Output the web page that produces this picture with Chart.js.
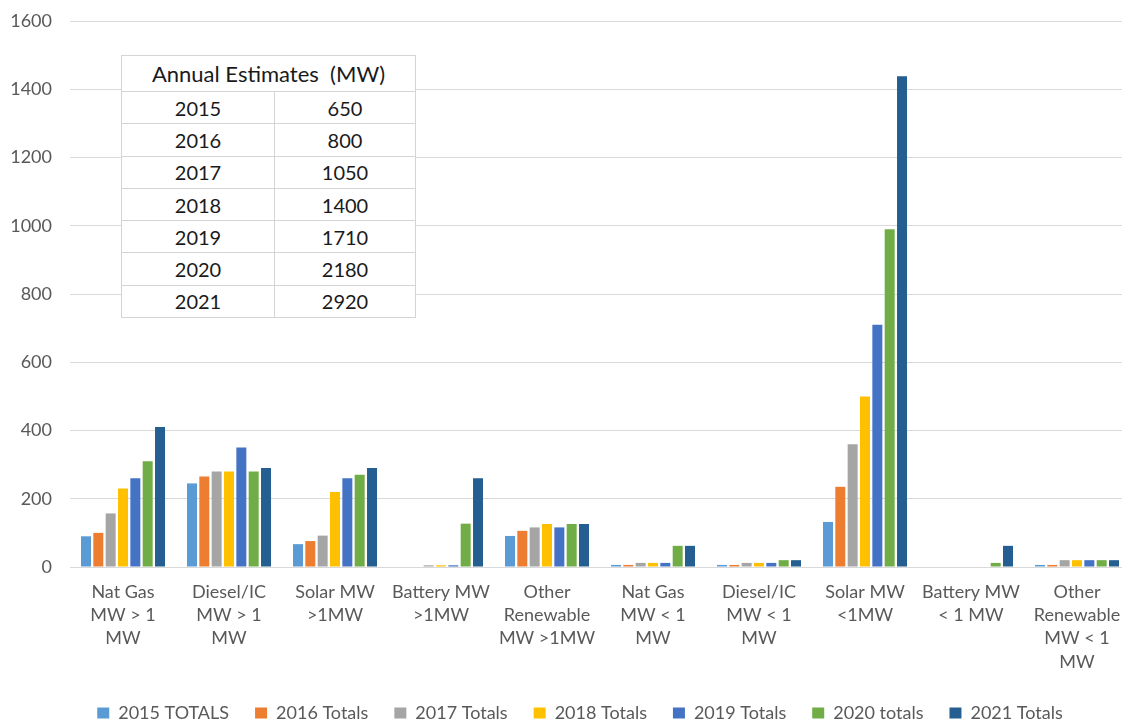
<!DOCTYPE html>
<html>
<head>
<meta charset="utf-8">
<script src="https://cdn.jsdelivr.net/npm/chart.js@4/dist/chart.umd.min.js"></script>
<style>
  html, body { margin: 0; padding: 0; background: #fff; overflow: hidden; }
  #wrap { position: relative; width: 1122px; height: 724px; overflow: hidden; }
  #c { position: absolute; left: 0; top: 0; }
  #tbl {
    position: absolute; left: 121px; top: 55px; width: 295px; height: 263px;
    border-collapse: collapse; background: #fff;
    font-family: Lato, "Open Sans", sans-serif; font-size: 20px; color: #1a1a1a;
  }
  #tbl td, #tbl th { border: 1.5px solid #d4d4d4; text-align: center; padding: 0; font-weight: normal; }
  #tbl th { font-size: 22px; }
</style>
</head>
<body>
<div id="wrap">
  <canvas id="c" width="1130" height="724"></canvas>
  <table id="tbl"></table>
</div>
<script>
const categories = [
  ["Nat Gas", "MW > 1", "MW"],
  ["Diesel/IC", "MW > 1", "MW"],
  ["Solar MW", ">1MW"],
  ["Battery MW", ">1MW"],
  ["Other", "Renewable", "MW >1MW"],
  ["Nat Gas", "MW < 1", "MW"],
  ["Diesel/IC", "MW < 1", "MW"],
  ["Solar MW", "<1MW"],
  ["Battery MW", "< 1 MW"],
  ["Other", "Renewable", "MW < 1", "MW"]
];
const seriesNames = ["2015 TOTALS", "2016 Totals", "2017 Totals", "2018 Totals", "2019 Totals", "2020 totals", "2021 Totals"];
const seriesColors = ["#5B9BD5", "#ED7D31", "#A5A5A5", "#FFC000", "#4472C4", "#70AD47", "#255E91"];
const v2015 = [90, 245, 67, 0, 91, 6, 6, 132, 0, 6];
const v2016 = [100, 265, 76, 0, 106, 6, 6, 235, 0, 6];
const v2017 = [157, 280, 92, 5, 116, 12, 12, 360, 0, 20];
const v2018 = [230, 280, 220, 5, 126, 12, 12, 500, 0, 20];
const v2019 = [260, 350, 260, 5, 116, 12, 12, 710, 0, 20];
const v2020 = [310, 280, 270, 127, 126, 62, 20, 990, 12, 20];
const v2021 = [410, 290, 290, 260, 126, 62, 20, 1438, 62, 20];
const seriesValues = [v2015, v2016, v2017, v2018, v2019, v2020, v2021];
const yTicks = [0, 200, 400, 600, 800, 1000, 1200, 1400, 1600];
const tableTitle = "Annual Estimates  (MW)";
const tableYears = ["2015", "2016", "2017", "2018", "2019", "2020", "2021"];
const tableEstimates = ["650", "800", "1050", "1400", "1710", "2180", "2920"];

// build table
const tbl = document.getElementById('tbl');
let html = '<tr><th colspan="2">' + tableTitle.replace(/  /g, ' &nbsp;') + '</th></tr>';
for (let i = 0; i < tableYears.length; i++) {
  html += '<tr><td style="width:152px">' + tableYears[i] + '</td><td>' + tableEstimates[i] + '</td></tr>';
}
tbl.innerHTML = html;

const FONT = "Lato, 'Open Sans', sans-serif";
const shiftLegend = {
  id: 'shiftLegend',
  afterLayout(chart) {
    if (chart.legend) { chart.legend.left += 15; chart.legend.right += 15; }
  }
};
new Chart(document.getElementById('c'), {
  type: 'bar',
  data: {
    labels: categories,
    datasets: seriesNames.map((n, i) => ({
      label: n,
      data: seriesValues[i],
      backgroundColor: seriesColors[i],
      borderWidth: 0,
      categoryPercentage: 0.815,
      barPercentage: 0.81
    }))
  },
  plugins: [shiftLegend],
  options: {
    responsive: false,
    animation: false,
    layout: { padding: { top: 21, right: 0, left: 0, bottom: -8 } },
    plugins: {
      tooltip: { enabled: false },
      legend: {
        position: 'bottom',
        labels: {
          font: { family: FONT, size: 18 },
          color: '#595959',
          boxWidth: 12,
          boxHeight: 11,
          padding: 26
        }
      }
    },
    scales: {
      x: {
        grid: { display: false, drawTicks: false },
        border: { display: true, color: '#d9d9d9', width: 1 },
        ticks: {
          font: { family: FONT, size: 18, lineHeight: 1.3 },
          color: '#595959',
          padding: 13,
          maxRotation: 0,
          autoSkip: false
        },
        afterFit: (s) => { s.height = 111; s.paddingLeft = 0; s.paddingRight = 0; }
      },
      y: {
        min: 0, max: 1600,
        afterBuildTicks: (s) => { s.ticks = yTicks.map(v => ({ value: v })); },
        grid: { color: '#d9d9d9', drawTicks: false },
        border: { display: false },
        ticks: {
          font: { family: FONT, size: 18 },
          color: '#595959',
          padding: 18,
          callback: (v) => String(v)
        },
        afterFit: (s) => { s.width = 70; s.paddingTop = 0; s.paddingBottom = 0; }
      }
    }
  }
});
</script>
</body>
</html>
